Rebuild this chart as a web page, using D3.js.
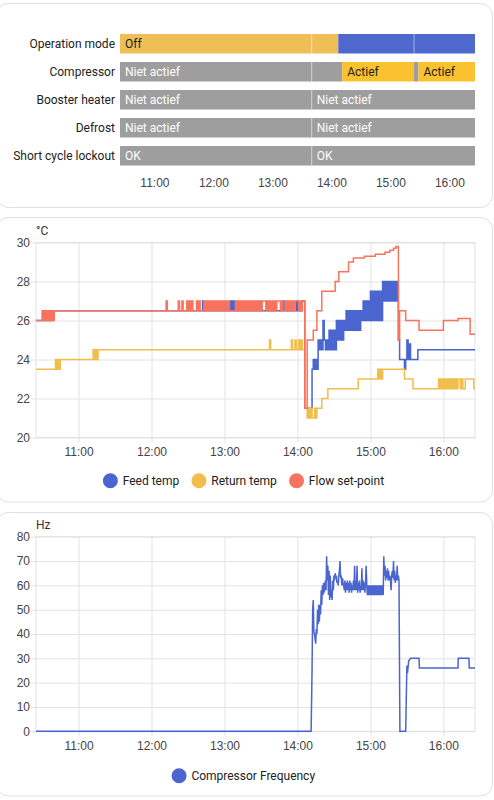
<!DOCTYPE html>
<html>
<head>
<meta charset="utf-8">
<script src="https://cdn.jsdelivr.net/npm/d3@7"></script>
<style>
html, body { margin: 0; padding: 0; background: #fff; }
svg { display: block; font-family: Roboto, "Noto Sans", sans-serif; }
</style>
</head>
<body>
<svg id="chart" width="494" height="800"></svg>
<script>
// shared time window
const windowStart = "10:25"
const windowEnd = "16:26"
const hourTicks = ["11:00", "12:00", "13:00", "14:00", "15:00", "16:00"]

// timeline card
const rows = ["Operation mode", "Compressor", "Booster heater", "Defrost", "Short cycle lockout"]
const opModeSegs = [["10:25", "13:40", "Off"], ["13:40", "14:07", "Off"], ["14:07", "15:24", "heat"], ["15:24", "16:26", "heat"]]
const compressorSegs = [["10:25", "13:40", "Niet actief"], ["13:40", "14:11", "Niet actief"], ["14:11", "15:24", "Actief"], ["15:24", "15:28:30", "Niet actief"], ["15:28:30", "16:26", "Actief"]]
const boosterSegs = [["10:25", "13:40", "Niet actief"], ["13:40", "16:26", "Niet actief"]]
const defrostSegs = [["10:25", "13:40", "Niet actief"], ["13:40", "16:26", "Niet actief"]]
const lockoutSegs = [["10:25", "13:40", "OK"], ["13:40", "16:26", "OK"]]
const stateColor = { "Off": "#efbe56", "heat": "#4f68cd", "Niet actief": "#9e9e9e", "Actief": "#f9c22e", "OK": "#9e9e9e" }
const stateText = { "Off": "#212121", "Niet actief": "#fff", "Actief": "#212121", "OK": "#fff" }

// temperature card (step points, plus one-per-minute bursts)
const tempTicks = [20, 22, 24, 26, 28, 30]
const feedSteps = [["10:25", 26], ["10:38", 26.5], ["12:42", 27], ["12:43", 26.5], ["13:05", 27], ["13:06", 26.5], ["13:07", 27], ["13:08", 26.5],
  ["13:48", 27], ["13:49", 26.5], ["13:59", 27], ["14:00", 26.5], ["14:04", 27], ["14:06", 21.5], ["14:12", 23.5], ["14:13", 24], ["14:14", 23.5],
  ["14:15", 24], ["14:16", 23.5], ["14:17", 25], ["14:18", 24.5], ["14:19", 25], ["14:20", 24.5], ["14:21", 26],
  ["15:23", 25], ["15:24", 24], ["15:28", 23.5], ["15:29", 24], ["15:30", 25], ["15:31", 24], ["15:32", 24.8], ["15:33", 24], ["15:39", 24.5], ["16:26", 24.5]]
const feedBurstStart = "14:22"
const feedBurst = [25, 24.5, 25,
  24.5, 25.5, 24.5, 25.5, 24.5, 25.5, 24.5,
  26, 25, 26, 25, 26, 25, 26,
  25.5, 26.5, 25.5, 26.5, 25.5, 26.5, 25.5, 26.5, 25.5, 26.5, 25.5, 26.5, 25.5, 26.5,
  26, 27, 26, 27, 26, 27, 26,
  27.5, 26, 27.5, 26, 27.5, 26, 27.5, 26, 27.5, 26,
  28, 27, 28, 27, 28, 27, 28, 27, 28, 27, 28, 27, 28]
const returnSteps = [["10:25", 23.5], ["10:41", 24], ["10:42", 23.5], ["10:43", 24], ["10:44", 23.5], ["10:45", 24], ["11:12", 24.5], ["11:13", 24],
  ["11:14", 24.5], ["11:15", 24], ["11:16", 24.5], ["13:37", 25], ["13:38", 24.5], ["13:55", 25], ["13:56", 24.5], ["13:58", 25], ["13:59", 24.5],
  ["14:01", 25], ["14:02", 24.5], ["14:03", 25], ["14:04", 24.5], ["14:06", 21.5], ["14:08", 21], ["14:09", 21.5], ["14:10", 21], ["14:11", 21.5],
  ["14:12", 21], ["14:14", 21.5], ["14:15", 21], ["14:16", 21.5], ["14:20", 22], ["14:25", 22.5], ["14:50", 23], ["15:06", 23.5], ["15:07", 23],
  ["15:08", 23.5], ["15:09", 23], ["15:10", 23.5], ["15:28", 23], ["15:35", 22.5], ["16:19", 23], ["16:25", 22.5], ["16:26", 22.5]]
const returnBurstStart = "15:56"
const returnBurst = [23, 22.5, 23, 22.5, 23, 22.5, 23, 22.5, 23, 22.5, 23, 22.5, 23, 22.5, 23, 22.5, 23, 23, 22.5, 23, 22.5, 22.5, 23]
const setpointSteps = [["10:25", 26], ["10:30", 26.5], ["10:31", 26], ["10:32", 26.5], ["10:33", 26], ["10:34", 26.5], ["10:35", 26], ["10:36", 26.5],
  ["10:37", 26], ["10:38", 26.5], ["10:39", 26], ["10:40", 26.5], ["12:12", 27], ["12:13", 26.5], ["12:22", 27], ["12:23", 26.5], ["12:25", 27],
  ["12:26", 26.5], ["12:29", 27], ["12:30", 26.5], ["12:31", 27], ["12:32", 26.5], ["12:33", 27], ["12:34", 26.5], ["12:37", 27], ["12:38", 26.5],
  ["12:39", 27], ["12:40", 26.5], ["14:06", 21.5], ["14:08", 25], ["14:13", 25.5], ["14:16", 26.5], ["14:20", 27.5], ["14:31", 28], ["14:34", 28.5],
  ["14:42", 29], ["14:46", 29.2], ["14:55", 29.3], ["15:04", 29.4], ["15:12", 29.5], ["15:16", 29.6], ["15:19", 29.7], ["15:21", 29.8],
  ["15:23", 25], ["15:24", 26.5], ["15:29", 26], ["15:40", 25.5], ["16:00", 26], ["16:12", 26.1], ["16:22", 25.3], ["16:26", 25.3]]
const setpointBurstStart = "12:43"
const setpointBurst = [27, 26.5, 27, 26.5, 27, 26.5, 27, 26.5, 27, 26.5, 27, 26.5, 27, 26.5, 27, 26.5, 27, 26.5, 27, 26.5, 27, 26.5,
  26.5, 26.5, 26.5, 26.5,
  27, 26.5, 27, 26.5, 27, 26.5, 27, 26.5, 27, 26.5, 27, 26.5, 27, 26.5, 27, 26.5, 27, 26.5, 27, 26.5, 27, 26.5, 27,
  27, 27,
  26.5, 27, 26.5, 27, 26.5, 27, 26.5, 27, 26.5, 27,
  27, 27, 26.5, 27, 26.5, 26.5,
  27, 26.5, 27, 26.5, 27, 26.5, 27, 26.5, 27,
  27, 27,
  26.5, 27, 26.5, 27, 27]

// compressor card (points, plus one sample per 30 s while running)
const hzTicks = [0, 10, 20, 30, 40, 50, 60, 70, 80]
const hzBefore = [["10:25", 0], ["14:11:15", 0]]
const hzSamplesStart = "14:12"
const hzSamples = [
  25, 50, 54, 41, 40, 38, 36, 42, 40, 50, 44, 52,
  45, 52, 48, 58, 52, 60, 56, 61, 57, 60, 62, 58,
  72, 62, 68, 56, 66, 54, 64, 55, 58, 54, 62, 58,
  64, 62, 65, 63, 64, 61, 62, 60, 64, 66, 70, 63,
  64, 60, 63, 61, 60, 58, 62, 57, 61, 58, 62, 58,
  61, 57, 62, 58, 61, 57, 60, 58, 62, 58, 68, 58,
  62, 58, 68, 57, 61, 58, 62, 57, 60, 58, 67, 58,
  62, 58, 61, 57, 62, 68, 60, 56, 60, 56, 60, 56,
  60, 56, 60, 56, 60, 56, 60, 56, 60, 56, 60, 56,
  60, 56, 60, 56, 60, 56, 60, 56, 60, 56, 72, 64,
  68, 62, 66, 63, 67, 62, 66, 62, 64, 62, 58, 64,
  66, 63, 70, 62, 66, 61, 64, 62, 68, 62, 64, 62]
const hzAfter = [["15:24:15", 0], ["15:29", 0], ["15:30", 27], ["15:30:30", 24], ["15:31:30", 29], ["15:33", 30], ["15:40", 30], ["15:40:15", 26],
  ["16:12", 26], ["16:12:15", 30], ["16:21", 30], ["16:21:15", 26], ["16:26", 26]]

const T = s => { const p = s.split(":").map(Number); return new Date(2024, 0, 15, p[0], p[1], p[2] || 0) }
const pts = arr => arr.map(d => ({ t: T(d[0]), v: d[1] }))
const burst = (start, vals, step) => vals.map((v, i) => ({ t: d3.timeSecond.offset(T(start), i * step), v: v }))
const merge = (...parts) => [].concat(...parts).sort((a, b) => a.t - b.t)

const svg = d3.select("#chart")
const domain = [T(windowStart), T(windowEnd)]
const tickDates = hourTicks.map(T)
const fmt = d3.timeFormat("%H:%M")

// cards
const cards = [[3.5, 207.5], [217.5, 502], [512.5, 796]]
svg.selectAll("rect.card").data(cards).enter().append("rect")
  .attr("class", "card")
  .attr("x", -3.5).attr("y", d => d[0])
  .attr("width", 496).attr("height", d => d[1] - d[0])
  .attr("rx", 12).attr("fill", "#fff").attr("stroke", "#e0e0e0")

// ---------- timeline ----------
const xT = d3.scaleTime().domain(domain).range([120, 475])
const yT = d3.scaleBand().domain(rows).range([25.5, 174]).padding(0.3036)
const rowSegs = [opModeSegs, compressorSegs, boosterSegs, defrostSegs, lockoutSegs]

svg.append("g").selectAll("text").data(rows).enter().append("text")
  .attr("x", 115).attr("y", d => yT(d) + yT.bandwidth() / 2)
  .attr("text-anchor", "end").attr("dominant-baseline", "central")
  .attr("font-size", 12).attr("fill", "#212121")
  .text(d => d)

rows.forEach((r, i) => {
  const g = svg.append("g")
  const segs = rowSegs[i]
  g.selectAll("rect").data(segs).enter().append("rect")
    .attr("x", d => xT(T(d[0]))).attr("y", yT(r))
    .attr("width", d => xT(T(d[1])) - xT(T(d[0])))
    .attr("height", yT.bandwidth())
    .attr("fill", d => stateColor[d[2]])
  g.selectAll("line").data(segs.filter((d, j) => j > 0 && segs[j - 1][2] === d[2])).enter().append("line")
    .attr("x1", d => xT(T(d[0]))).attr("x2", d => xT(T(d[0])))
    .attr("y1", yT(r)).attr("y2", yT(r) + yT.bandwidth())
    .attr("stroke", "rgba(255,255,255,0.45)")
  g.selectAll("text").data(segs.filter(d => stateText[d[2]])).enter().append("text")
    .attr("x", d => xT(T(d[0])) + 5).attr("y", yT(r) + yT.bandwidth() / 2)
    .attr("dominant-baseline", "central").attr("font-size", 12)
    .attr("fill", d => stateText[d[2]])
    .text(d => d[2])
    .each(function (d) {
      const w = xT(T(d[1])) - xT(T(d[0]))
      if (this.getComputedTextLength() + 14 > w) d3.select(this).remove()
    })
})

const axT = svg.append("g").attr("transform", "translate(0,176.5)")
  .call(d3.axisBottom(xT).tickValues(tickDates).tickFormat(fmt).tickSize(0).tickPadding(2))
axT.select(".domain").remove()
axT.selectAll("text").attr("font-size", 12).attr("fill", "#444").attr("font-family", null)

// ---------- helpers for line cards ----------
const x = d3.scaleTime().domain(domain).range([36, 475])

function frame(y, top, bottom, ticks, unit) {
  const gx = svg.append("g").attr("transform", `translate(0,${bottom + 5})`)
    .call(d3.axisBottom(x).tickValues(tickDates).tickFormat(fmt).tickSize(-(bottom + 5 - top)).tickPadding(5))
  const gy = svg.append("g").attr("transform", "translate(31,0)")
    .call(d3.axisLeft(y).tickValues(ticks).tickSize(-444).tickPadding(1))
  for (const g of [gx, gy]) {
    g.select(".domain").remove()
    g.selectAll("line").attr("stroke", "#e2e2e2")
    g.selectAll("text").attr("font-size", 12).attr("fill", "#444").attr("font-family", null)
  }
  svg.append("rect").attr("x", 36).attr("y", top).attr("width", 439).attr("height", bottom - top)
    .attr("fill", "none").attr("stroke", "#e2e2e2")
  svg.append("text").attr("x", 36).attr("y", top - 12).attr("dominant-baseline", "central")
    .attr("font-size", 12).attr("fill", "#333").text(unit)
}

function legend(items, cy) {
  const g = svg.append("g")
  const groups = g.selectAll("g").data(items).enter().append("g")
  groups.append("circle").attr("r", 7.5).attr("fill", d => d[1])
  groups.append("text").attr("x", 12.3).attr("dominant-baseline", "central")
    .attr("font-size", 12).attr("fill", "#212121").text(d => d[0])
  const widths = []
  groups.each(function () { widths.push(this.getBBox().width) })
  const total = d3.sum(widths) + 12 * (widths.length - 1)
  let cx = 243.5 - total / 2 + 7.5
  groups.each(function (d, i) {
    d3.select(this).attr("transform", `translate(${cx},${cy})`)
    cx += widths[i] + 12
  })
}

// ---------- temperature card ----------
const yTemp = d3.scaleLinear().domain([20, 30]).range([437.5, 242.5])
frame(yTemp, 242.5, 437.5, tempTicks, "°C")

svg.append("clipPath").attr("id", "clipTemp").append("rect")
  .attr("x", 36).attr("y", 236).attr("width", 439).attr("height", 205)
const tempLine = d3.line().x(d => x(d.t)).y(d => yTemp(d.v)).curve(d3.curveStepAfter)
const tempSeries = [
  [merge(pts(feedSteps), burst(feedBurstStart, feedBurst, 60)), "#4a65cf"],
  [merge(pts(returnSteps), burst(returnBurstStart, returnBurst, 60)), "#f1be4e"],
  [merge(pts(setpointSteps), burst(setpointBurstStart, setpointBurst, 60)), "#f8735e"]
]
svg.append("g").attr("clip-path", "url(#clipTemp)")
  .selectAll("path").data(tempSeries).enter().append("path")
  .attr("d", d => tempLine(d[0])).attr("fill", "none")
  .attr("stroke", d => d[1]).attr("stroke-width", 1.5)

legend([["Feed temp", "#4a65cf"], ["Return temp", "#f1be4e"], ["Flow set-point", "#f8735e"]], 480.7)

// ---------- compressor card ----------
const yHz = d3.scaleLinear().domain([0, 80]).range([731.3, 536.7])
frame(yHz, 536.7, 731.3, hzTicks, "Hz")

svg.append("clipPath").attr("id", "clipHz").append("rect")
  .attr("x", 36).attr("y", 530).attr("width", 439).attr("height", 205)
const hzLine = d3.line().x(d => x(d.t)).y(d => yHz(d.v))
const hzData = merge(pts(hzBefore), burst(hzSamplesStart, hzSamples, 30), pts(hzAfter))
svg.append("path").attr("clip-path", "url(#clipHz)")
  .attr("d", hzLine(hzData)).attr("fill", "none")
  .attr("stroke", "#4a65cf").attr("stroke-width", 1.5)

legend([["Compressor Frequency", "#4a65cf"]], 775.7)
</script>
</body>
</html>
